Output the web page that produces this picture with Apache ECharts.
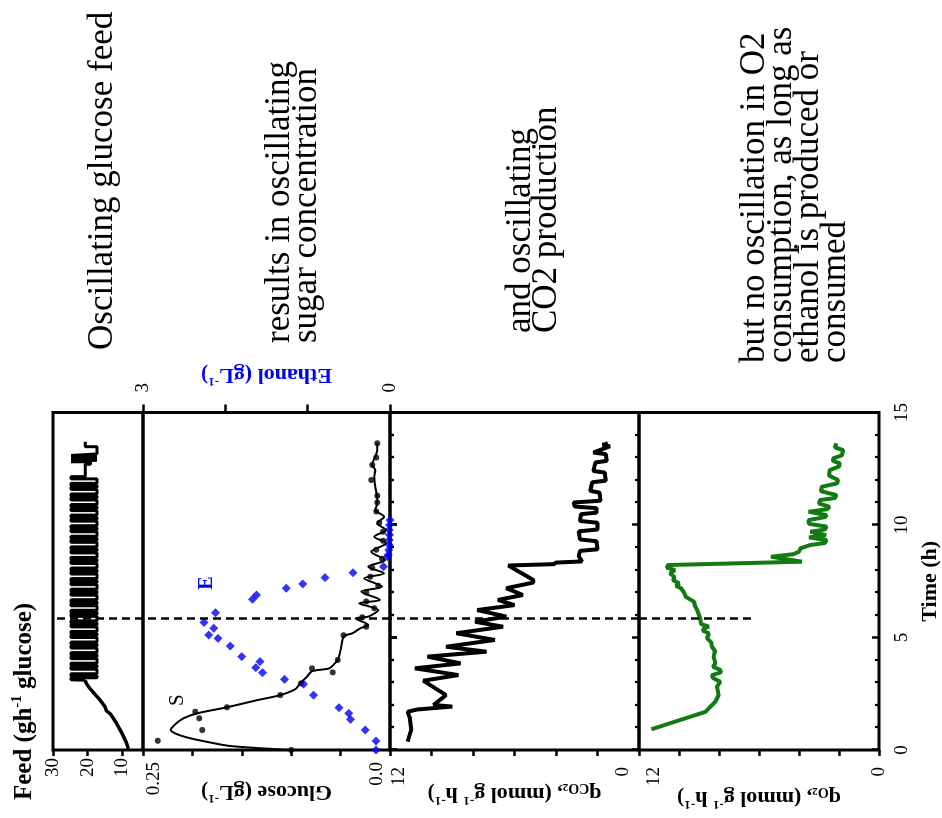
<!DOCTYPE html>
<html>
<head>
<meta charset="utf-8">
<title>Oscillating glucose feed</title>
<script src="https://cdn.jsdelivr.net/npm/echarts@6.0.0/dist/echarts.min.js"></script>
<style>
  html, body { margin: 0; padding: 0; width: 942px; height: 818px; overflow: hidden; background: #fff; }
  /* figure is laid out upright (818 x 942) and turned a quarter to the left */
  #chart {
    position: absolute; left: 0; top: 0;
    width: 818px; height: 942px;
    transform-origin: 0 0;
    transform: translateY(818px) rotate(-90deg);
  }
</style>
</head>
<body>
<div id="chart"></div>
<script>
// ---- data (time in h) ----
const feedTicks = [10, 20, 30]
const shiftTime = 5.82          // dashed line
const o2DashEnd = 6.15          // dashed line stops here in the q_O2 panel

// feed ramp before the oscillation starts
const feedRamp = [
  [0.05, 8.2], [0.35, 8.9], [0.75, 10.1], [1.2, 11.7], [1.6, 13.4], [1.75, 14.6],
  [1.9, 14.9], [2.2, 16.3], [2.5, 18.0], [2.75, 19.4], [2.95, 20.3], [3.1, 20.7]
]
// oscillating feed (step: value holds until next time)
const feedPulses = [
  [3.10, 20.7], [3.12, 24.8], [3.21, 17.3], [3.30, 24.8], [3.39, 17.3], [3.59, 24.8],
  [3.68, 17.3], [3.77, 24.8], [3.86, 17.3], [4.06, 24.8], [4.15, 17.3], [4.24, 24.8],
  [4.33, 17.3], [4.53, 24.8], [4.62, 17.3], [4.71, 24.8], [4.80, 17.3], [5.00, 24.8],
  [5.09, 17.3], [5.18, 24.8], [5.27, 17.3], [5.47, 24.8], [5.56, 17.3], [5.65, 24.8],
  [5.74, 17.3], [5.94, 24.8], [6.03, 17.3], [6.12, 24.8], [6.21, 17.3], [6.41, 24.8],
  [6.50, 17.3], [6.59, 24.8], [6.68, 17.3], [6.88, 24.8], [6.97, 17.3], [7.06, 24.8],
  [7.15, 17.3], [7.35, 24.8], [7.44, 17.3], [7.53, 24.8], [7.62, 17.3], [7.82, 24.8],
  [7.91, 17.3], [8.00, 24.8], [8.09, 17.3], [8.29, 24.8], [8.38, 17.3], [8.47, 24.8],
  [8.56, 17.3], [8.76, 24.8], [8.85, 17.3], [8.94, 24.8], [9.03, 17.3], [9.23, 24.8],
  [9.32, 17.3], [9.41, 24.8], [9.50, 17.3], [9.70, 24.8], [9.79, 17.3], [9.88, 24.8],
  [9.97, 17.3], [10.17, 24.8], [10.26, 17.3], [10.35, 24.8], [10.44, 17.3], [10.64, 24.8],
  [10.73, 17.3], [10.82, 24.8], [10.91, 17.3], [11.11, 24.8], [11.20, 17.3], [11.29, 24.8],
  [11.38, 17.3], [11.58, 24.8], [11.67, 17.3], [11.76, 24.8], [11.85, 17.3], [12.05, 24.8],
  [12.15, 20.7], [12.70, 19.2], [12.81, 24.8], [12.88, 17.3], [12.95, 24.8], [13.02, 17.3],
  [13.09, 24.8], [13.16, 17.3], [13.48, 20.7], [13.70, 20.7]
]

const glucoseCurve = [
  [0, 0.100], [0.07, 0.128], [0.18, 0.162], [0.3, 0.178], [0.52, 0.202], [0.71, 0.216],
  [0.89, 0.222], [1.16, 0.217], [1.41, 0.209], [1.63, 0.195], [1.9, 0.165], [2.22, 0.134],
  [2.44, 0.111], [2.7, 0.096], [2.96, 0.091], [3.26, 0.084], [3.5, 0.079], [3.62, 0.062],
  [3.75, 0.058], [4.0, 0.053], [4.44, 0.050], [5.04, 0.047], [5.19, 0.038], [5.41, 0.030],
  [5.56, 0.022], [5.85, 0.035], [5.93, 0.022], [6.22, 0.012], [6.52, 0.031], [6.67, 0.010],
  [7.04, 0.029], [7.26, 0.008], [7.63, 0.026], [7.85, 0.006], [8.15, 0.022], [8.44, 0.005],
  [8.81, 0.019], [9.19, 0.004], [9.48, 0.016], [9.78, 0.004], [10.07, 0.013], [10.37, 0.006],
  [10.67, 0.015], [10.96, 0.013], [11.26, 0.013], [11.7, 0.015], [12.15, 0.016], [12.44, 0.015],
  [12.67, 0.018], [13.33, 0.013], [13.63, 0.013]
]
const glucoseSamples = [
  [0, 0.100], [0.41, 0.235], [0.89, 0.190], [1.41, 0.193], [1.70, 0.197], [1.90, 0.165],
  [2.44, 0.111], [2.96, 0.090], [3.45, 0.058], [3.63, 0.079], [4.0, 0.053], [5.1, 0.047],
  [5.48, 0.024], [5.9, 0.028], [6.3, 0.016], [6.6, 0.024], [7.0, 0.024], [7.3, 0.012],
  [7.7, 0.020], [8.1, 0.018], [8.5, 0.008], [8.9, 0.014], [9.3, 0.007], [9.7, 0.007],
  [10.1, 0.011], [10.6, 0.014], [11.0, 0.013], [11.3, 0.013], [12.0, 0.019], [12.67, 0.018],
  [13.0, 0.014], [13.63, 0.013]
]
const ethanolSamples = [
  [0, 0.17], [0.40, 0.17], [0.89, 0.30], [1.36, 0.48], [1.63, 0.50], [1.88, 0.62],
  [2.44, 0.93], [2.93, 1.05], [3.14, 1.28], [3.44, 1.55], [3.66, 1.63], [3.93, 1.58],
  [4.15, 1.80], [4.62, 1.94], [4.96, 2.09], [5.11, 2.20], [5.41, 2.14], [5.67, 2.26],
  [6.10, 2.12], [6.70, 1.67], [6.89, 1.62], [7.19, 1.26], [7.38, 1.06], [7.66, 0.79],
  [7.88, 0.45], [8.15, 0.08], [8.59, 0.03], [8.67, 0.02], [8.89, 0.015], [9.11, 0.01],
  [9.33, 0.01], [9.56, 0.005], [9.78, 0.01], [10.0, 0.005], [10.22, 0.0]
]

const qCO2 = [
  [0.37, 11.15], [0.89, 10.98], [1.45, 11.05], [1.70, 11.15], [1.80, 10.7], [1.93, 9.0],
  [2.0, 9.9], [2.44, 9.3], [3.08, 10.4], [3.33, 8.7], [3.63, 10.8], [3.85, 8.6],
  [4.15, 10.2], [4.37, 7.35], [4.59, 9.3], [4.89, 6.95], [5.19, 8.8], [5.48, 6.55],
  [5.70, 7.9], [5.93, 6.4], [6.22, 7.8], [6.44, 6.0], [6.67, 6.8], [6.89, 5.6],
  [7.19, 6.4], [7.44, 5.1], [7.56, 5.1], [8.2, 6.3], [8.26, 4.1], [8.33, 4.0],
  [8.38, 2.75], [8.6, 2.9], [8.85, 2.85], [8.92, 2.0], [9.28, 2.05], [9.36, 2.85],
  [9.72, 2.9], [9.8, 2.0], [10.1, 2.0], [10.18, 2.85], [10.48, 2.8], [10.55, 2.05],
  [10.75, 2.05], [10.82, 3.1], [11.0, 3.15], [11.08, 1.85], [11.44, 1.9], [11.52, 2.35],
  [11.9, 2.25], [11.97, 1.6], [12.33, 1.65], [12.4, 2.2], [12.78, 2.1], [12.85, 1.55],
  [13.15, 1.6], [13.22, 2.2], [13.5, 1.4], [13.56, 1.75], [13.63, 1.5]
]
const qO2 = [
  [0.92, 11.38], [1.70, 8.67], [1.85, 8.51], [2.15, 8.18], [2.44, 8.02], [2.81, 8.10],
  [3.04, 7.94], [3.2, 8.3], [3.33, 8.35], [3.45, 7.9], [3.56, 7.94], [3.7, 8.3],
  [3.85, 8.18], [4.15, 8.27], [4.4, 8.2], [4.59, 8.35], [4.8, 8.4], [4.96, 8.6],
  [5.19, 8.51], [5.3, 8.8], [5.41, 8.76], [5.48, 8.51], [5.6, 8.9], [5.78, 8.92],
  [6.0, 9.0], [6.22, 9.09], [6.4, 9.2], [6.59, 9.25], [6.81, 9.66], [7.0, 9.75],
  [7.19, 9.9], [7.3, 10.15], [7.41, 9.99], [7.55, 10.3], [7.70, 10.23], [7.85, 10.45],
  [8.0, 10.2], [8.1, 10.6], [8.22, 10.56], [8.3, 10.6], [8.37, 3.85], [8.59, 5.40],
  [8.7, 4.3], [8.81, 4.0], [8.96, 3.93], [9.11, 3.44], [9.2, 2.7], [9.33, 2.62],
  [9.45, 3.5], [9.55, 2.65], [9.7, 3.44], [9.8, 2.7], [9.93, 2.62], [10.05, 3.5],
  [10.22, 3.52], [10.35, 2.7], [10.44, 2.62], [10.59, 3.52], [10.7, 2.6], [10.81, 2.46],
  [10.95, 3.0], [11.11, 2.95], [11.2, 2.2], [11.33, 2.13], [11.5, 2.9], [11.70, 2.86],
  [11.85, 2.1], [12.0, 2.04], [12.2, 2.5], [12.44, 2.46], [12.6, 2.0], [12.74, 1.96],
  [12.85, 2.3], [12.96, 2.29], [13.1, 1.85], [13.33, 1.80], [13.45, 2.2], [13.63, 2.13]
]

// ---- styling ----
const FONT = 'Liberation Serif'
const BLACK = '#000'
const BLUE = '#0000ff'
const GREEN = '#127a12'
const dashStyle = { type: [8, 5], color: BLACK, width: 2.5 }
const NOTE_FONT = '35px "Liberation Serif"'

const nameRich = (color, size) => ({
  b: { fontFamily: FONT, fontSize: size, fontWeight: 'bold', color, lineHeight: size + 4 },
  sup: { fontFamily: FONT, fontSize: Math.round(size * 0.6), fontWeight: 'bold', color, lineHeight: Math.round(size * 0.6), verticalAlign: 'top' },
  sub: { fontFamily: FONT, fontSize: Math.round(size * 0.65), fontWeight: 'bold', color, lineHeight: Math.round(size * 0.5), verticalAlign: 'bottom' },
  sub2: { fontFamily: FONT, fontSize: Math.round(size * 0.5), fontWeight: 'bold', color, lineHeight: 4, verticalAlign: 'bottom' }
})
// end labels pushed off their tick by padding on one side
const shifted = (text, top, bottom) => ({ text, top, bottom })

function timeAxis(gridIndex, position, extra) {
  return Object.assign({
    type: 'value', gridIndex, position, min: 0, max: 15, interval: 5,
    axisLine: { show: false },
    axisTick: { show: true, inside: true, length: 7, lineStyle: { color: BLACK, width: 2.5 } },
    minorTick: { show: true, splitNumber: 5, length: 4, lineStyle: { color: BLACK, width: 2.2 } },
    axisLabel: { show: false },
    splitLine: { show: false }
  }, extra)
}

function valueAxis(gridIndex, min, max, interval, margin, labels, extra) {
  const keys = Object.keys(labels)
  const rich = {}
  keys.forEach((k, i) => {
    const l = labels[k]
    rich['l' + i] = { fontFamily: FONT, fontSize: 19, color: BLACK, padding: [l.top || 0, 0, l.bottom || 0, 0] }
  })
  return Object.assign({
    type: 'value', gridIndex, min, max, interval,
    nameMoveOverlap: false,
    axisLine: { show: false },
    axisTick: { show: true, inside: false, length: 6, lineStyle: { color: BLACK, width: 2.5 } },
    axisLabel: {
      margin, fontFamily: FONT, fontSize: 19, color: BLACK, rich,
      formatter: v => {
        for (let i = 0; i < keys.length; i++) {
          if (Math.abs(v - Number(keys[i])) < 1e-9) return '{l' + i + '|' + labels[keys[i]].text + '}'
        }
        return ''
      }
    },
    splitLine: { show: false }
  }, extra)
}

const gridBox = { show: true, borderColor: BLACK, borderWidth: 3, backgroundColor: 'transparent' }
const left = 68, width = 337.5

const chart = echarts.init(document.getElementById('chart'))

chart.setOption({
  animation: false,
  textStyle: { fontFamily: FONT },
  grid: [
    Object.assign({ left, width, top: 53, height: 90 }, gridBox),
    Object.assign({ left, width, top: 143, height: 247 }, gridBox),
    Object.assign({ left, width, top: 390, height: 249 }, gridBox),
    Object.assign({ left, width, top: 639, height: 244 }, gridBox)
  ],
  xAxis: [
    timeAxis(0, 'bottom', { axisTick: { show: false }, minorTick: { show: false } }),
    timeAxis(1, 'top'),
    timeAxis(2, 'bottom'),
    timeAxis(2, 'top'),
    timeAxis(3, 'bottom', {
      axisLabel: { show: true, margin: 14, fontFamily: FONT, fontSize: 19, color: BLACK },
      name: 'Time (h)', nameLocation: 'middle', nameGap: 40,
      nameTextStyle: { fontFamily: FONT, fontSize: 22, fontWeight: 'bold', color: BLACK }
    })
  ],
  yAxis: [
    {
      type: 'value', gridIndex: 0, min: 4, max: 30,
      axisLine: { show: false },
      axisTick: { show: true, length: 6, customValues: feedTicks, lineStyle: { color: BLACK, width: 2.5 } },
      axisLabel: { margin: 8, customValues: feedTicks, fontFamily: FONT, fontSize: 19, color: BLACK },
      splitLine: { show: false }
    },
    valueAxis(1, 0, 0.25, 0.05, 12,
      { '0.25': shifted('0.25', 22, 0), '0': shifted('0.0', 0, 26) },
      {
        name: '{b|Glucose (gL}{sup|-1}{b|)}', nameLocation: 'middle', nameGap: 28.5, nameRotate: 90,
        nameTextStyle: { rich: nameRich(BLACK, 22) }
      }),
    valueAxis(1, 0, 3, 1, 20,
      { '3': shifted('3', 0, 0), '0': shifted('0', 0, 0) },
      {
        position: 'right', axisTick: { show: true, length: 8, lineStyle: { color: BLACK, width: 2.5 } },
        name: '{b|Ethanol (gL}{sup|-1}{b|)}', nameLocation: 'middle', nameGap: 24.5, nameRotate: 90,
        nameTextStyle: { rich: nameRich(BLUE, 22) }
      }),
    valueAxis(2, 0, 12, 2, 17,
      { '12': shifted('12', 18, 0), '0': shifted('0', 0, 32) },
      {
        name: '{b|q}{sub|CO}{sub2|2}{b|, (mmol g}{sup|-1}{b| h}{sup|-1}{b|)}',
        nameLocation: 'middle', nameGap: 31, nameRotate: 90,
        nameTextStyle: { rich: nameRich(BLACK, 22) }
      }),
    valueAxis(3, 0, 12, 2, 17,
      { '12': shifted('12', 30, 0), '0': shifted('0', 0, 0) },
      {
        name: '{b|q}{sub|O}{sub2|2}{b|, (mmol g}{sup|-1}{b| h}{sup|-1}{b|)}',
        nameLocation: 'middle', nameGap: 35, nameRotate: 90,
        nameTextStyle: { rich: nameRich(BLACK, 22) }
      })
  ],
  graphic: [
    {
      type: 'text', left: 18, top: 10,
      style: { text: '{b|Feed (gh}{sup|-1}{b| glucose)}', rich: nameRich(BLACK, 25) }
    },
    {
      type: 'text', left: 468, top: 85,
      style: { text: 'Oscillating glucose feed', font: NOTE_FONT, lineHeight: 28, fill: BLACK }
    },
    {
      type: 'text', left: 475, top: 262,
      style: { text: 'results in oscillating\nsugar concentration', font: NOTE_FONT, lineHeight: 27, fill: BLACK }
    },
    {
      type: 'text', left: 485, top: 503,
      style: { text: 'and oscillating\nCO2 production', font: NOTE_FONT, lineHeight: 26, fill: BLACK }
    },
    {
      type: 'text', left: 455, top: 737,
      style: {
        text: 'but no oscillation in O2\nconsumption, as long as\nethanol is produced or\nconsumed',
        font: NOTE_FONT, lineHeight: 27, fill: BLACK
      }
    }
  ],
  series: [
    {
      type: 'line', xAxisIndex: 0, yAxisIndex: 0, data: feedRamp, showSymbol: false,
      lineStyle: { color: BLACK, width: 3.5 }, smooth: 0.3,
      markLine: { silent: true, symbol: 'none', label: { show: false }, lineStyle: dashStyle, data: [{ xAxis: shiftTime }] }
    },
    {
      type: 'line', xAxisIndex: 0, yAxisIndex: 0, data: feedPulses, showSymbol: false, step: 'end',
      lineStyle: { color: BLACK, width: 3 }
    },
    {
      type: 'line', xAxisIndex: 1, yAxisIndex: 1, data: glucoseCurve, showSymbol: false, smooth: 0.3,
      lineStyle: { color: BLACK, width: 2 },
      markLine: { silent: true, symbol: 'none', label: { show: false }, lineStyle: dashStyle, data: [{ xAxis: shiftTime }] },
      markPoint: {
        symbol: 'circle', symbolSize: 1, itemStyle: { color: 'transparent' },
        label: { show: true, formatter: 'S', color: BLACK, fontFamily: FONT, fontSize: 21 },
        data: [{ coord: [2.22, 0.2156] }]
      }
    },
    {
      type: 'scatter', xAxisIndex: 1, yAxisIndex: 1, data: glucoseSamples,
      symbol: 'circle', symbolSize: 6, itemStyle: { color: BLACK }
    },
    {
      type: 'scatter', xAxisIndex: 1, yAxisIndex: 2, data: ethanolSamples,
      symbol: 'diamond', symbolSize: 9, itemStyle: { color: BLUE },
      markPoint: {
        symbol: 'circle', symbolSize: 1, itemStyle: { color: 'transparent' },
        label: { show: true, formatter: 'E', color: BLUE, fontFamily: FONT, fontSize: 20, fontWeight: 'bold' },
        data: [{ coord: [7.42, 2.23] }]
      }
    },
    {
      type: 'line', xAxisIndex: 2, yAxisIndex: 3, data: qCO2, showSymbol: false,
      lineStyle: { color: BLACK, width: 4 },
      markLine: { silent: true, symbol: 'none', label: { show: false }, lineStyle: dashStyle, data: [{ xAxis: shiftTime }] }
    },
    {
      type: 'line', xAxisIndex: 4, yAxisIndex: 4, data: qO2, showSymbol: false,
      lineStyle: { color: GREEN, width: 4 },
      markLine: {
        silent: true, symbol: 'none', label: { show: false }, lineStyle: dashStyle,
        data: [[{ coord: [shiftTime, 12] }, { coord: [shiftTime, o2DashEnd] }]]
      }
    }
  ]
})
</script>
</body>
</html>
